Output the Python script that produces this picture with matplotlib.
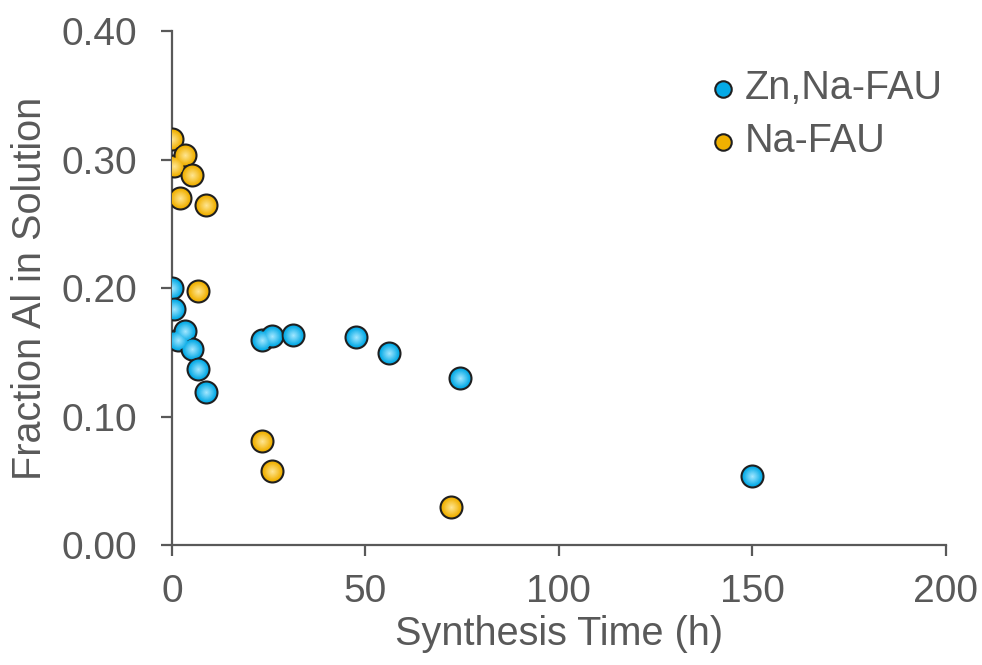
import numpy as np
import matplotlib.pyplot as plt
from matplotlib.colors import to_rgb

plt.rcParams['font.family'] = ['Liberation Sans', 'DejaVu Sans']

# Zn,Na-FAU
zn_time = [0.0, 0.6, 1.5, 3.5, 5.3, 6.8, 8.7, 23.4, 26.0, 31.4, 47.5, 56.0, 74.5, 150.0]
zn_frac = [0.200, 0.184, 0.160, 0.167, 0.153, 0.137, 0.119, 0.160, 0.163, 0.164, 0.162, 0.150, 0.130, 0.054]

# Na-FAU
na_time = [0.0, 0.5, 2.0, 3.5, 5.3, 8.7, 6.8, 23.4, 26.0, 72.2]
na_frac = [0.316, 0.295, 0.270, 0.304, 0.288, 0.265, 0.198, 0.081, 0.058, 0.030]

text_color = '#595959'
blue_edge, blue_mid = '#05aae6', '#a0e6ff'
gold_edge, gold_mid = '#f0b000', '#ffe590'


def shiny_scatter(ax, x, y, c_out, c_in, size, label):
    # fake radial gradient: stacked circles getting lighter toward the centre
    ax.scatter(x, y, s=size, color=c_out, edgecolor='#1f1f1f', linewidth=1.5,
               zorder=3, label=label)
    a, b = np.array(to_rgb(c_out)), np.array(to_rgb(c_in))
    steps = 8
    for i in range(1, steps + 1):
        f = i / steps
        col = a + (b - a) * f
        ax.scatter(x, y, s=size * (1 - 0.92 * f) ** 2 * 0.85, color=col,
                   linewidth=0, zorder=3 + i)


fig, ax = plt.subplots(figsize=(9.82, 6.65), dpi=100)
fig.subplots_adjust(left=0.175, right=0.963, top=0.953, bottom=0.180)

shiny_scatter(ax, zn_time, zn_frac, blue_edge, blue_mid, 250, 'Zn,Na-FAU')
shiny_scatter(ax, na_time, na_frac, gold_edge, gold_mid, 250, 'Na-FAU')

ax.set_xlim(0, 200)
ax.set_ylim(0, 0.40)
ax.set_xticks([0, 50, 100, 150, 200])
ax.set_yticks([0.0, 0.1, 0.2, 0.3, 0.4])
ax.set_yticklabels([f'{v:.2f}' for v in [0.0, 0.1, 0.2, 0.3, 0.4]])

for side in ['top', 'right']:
    ax.spines[side].set_visible(False)
for side in ['left', 'bottom']:
    ax.spines[side].set_color(text_color)
    ax.spines[side].set_linewidth(1.6)

ax.tick_params(direction='out', length=8, width=1.6, color=text_color,
               labelcolor=text_color, labelsize=28)
ax.tick_params(axis='x', pad=13)
ax.tick_params(axis='y', pad=17)
ax.set_xlabel('Synthesis Time (h)', fontsize=28.5, color=text_color, labelpad=3)
ax.set_ylabel('Fraction Al in Solution', fontsize=28.5, color=text_color, labelpad=9)

leg = ax.legend(loc='upper right', bbox_to_anchor=(1.032, 0.98), frameon=False,
                fontsize=28.5, markerscale=0.75, handletextpad=-0.45,
                labelspacing=0.38, borderaxespad=0.3)
for t in leg.get_texts():
    t.set_color(text_color)

fig.savefig('out.png', dpi=100)
